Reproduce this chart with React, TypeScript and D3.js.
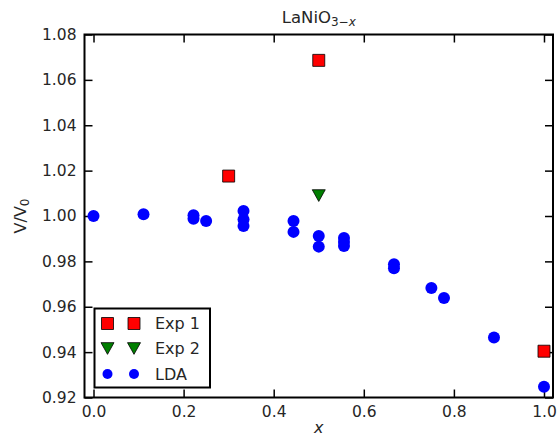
import React, { useEffect, useRef } from "react";
import * as d3 from "d3";

// LDA volumes
const ldaX = [0.0, 0.111, 0.222, 0.222, 0.25, 0.333, 0.333, 0.333, 0.444, 0.444, 0.5, 0.5, 0.556, 0.556, 0.556, 0.667, 0.667, 0.75, 0.778, 0.889, 1.0];
const ldaV = [1.0, 1.0008, 1.0003, 0.9988, 0.9978, 1.0022, 0.9985, 0.9956, 0.9978, 0.993, 0.9912, 0.9865, 0.9903, 0.9885, 0.9868, 0.9787, 0.977, 0.9683, 0.9639, 0.9464, 0.9247];

// experiments
const exp1X = [0.3, 0.5, 1.0];
const exp1V = [1.0176, 1.0686, 0.9404];
const exp2X = [0.5];
const exp2V = [1.009];

const xTicks = [0.0, 0.2, 0.4, 0.6, 0.8, 1.0];
const yTicks = [0.92, 0.94, 0.96, 0.98, 1.0, 1.02, 1.04, 1.06, 1.08];
const legendLabels = ["Exp 1", "Exp 2", "LDA"];

const W = 559;
const H = 438;
const margin = { top: 34.5, right: 6, bottom: 40.5, left: 84.5 };
const FONT = "DejaVu Sans, sans-serif";
const TXT = "#262626";

export default function App() {
  const ref = useRef<SVGSVGElement>(null);

  useEffect(() => {
    const svg = d3.select(ref.current);
    svg.selectAll("*").remove();
    const width = W - margin.left - margin.right;
    const height = H - margin.top - margin.bottom;

    const x = d3.scaleLinear().domain([-0.02, 1.02]).range([0, width]);
    const y = d3.scaleLinear().domain([0.92, 1.08]).range([height, 0]);

    const g = svg.append("g").attr("transform", `translate(${margin.left},${margin.top})`);

    const styleAxis = (sel: any, labels: boolean) => {
      sel.select(".domain").remove();
      sel.selectAll(".tick line").attr("stroke", "#000").attr("stroke-width", 1.5);
      sel.selectAll(".tick text")
        .attr("fill", TXT)
        .style("font-family", FONT)
        .style("font-size", "15.5px")
        .style("display", labels ? null : "none");
    };

    const fmt2 = d3.format(".2f");
    const fmt1 = d3.format(".1f");

    g.append("g").attr("transform", `translate(0,${height})`)
      .call(d3.axisBottom(x).tickValues(xTicks).tickSize(-8).tickPadding(8).tickFormat((d: any) => fmt1(d)))
      .call((s) => styleAxis(s, true));
    g.append("g")
      .call(d3.axisTop(x).tickValues(xTicks).tickSize(-8).tickFormat(() => ""))
      .call((s) => styleAxis(s, false));
    g.append("g")
      .call(d3.axisLeft(y).tickValues(yTicks).tickSize(-8).tickPadding(8).tickFormat((d: any) => fmt2(d)))
      .call((s) => styleAxis(s, true));
    g.append("g").attr("transform", `translate(${width},0)`)
      .call(d3.axisRight(y).tickValues(yTicks).tickSize(-8).tickFormat(() => ""))
      .call((s) => styleAxis(s, false));

    // frame
    g.append("rect")
      .attr("width", width).attr("height", height)
      .attr("fill", "none").attr("stroke", "#000").attr("stroke-width", 2);

    const square = d3.symbol().type(d3.symbolSquare).size(144);
    const tri = (s: number) => `M${-s},${-s * 0.9}L${s},${-s * 0.9}L0,${s * 0.9}Z`;

    // LDA
    g.append("g").selectAll("circle").data(ldaX).enter().append("circle")
      .attr("cx", (d) => x(d)).attr("cy", (d, i) => y(ldaV[i]))
      .attr("r", 6).attr("fill", "#0000ff");

    g.append("g").selectAll("path").data(exp1X).enter().append("path")
      .attr("d", square() as string)
      .attr("transform", (d, i) => `translate(${x(d)},${y(exp1V[i])})`)
      .attr("fill", "#ff0000").attr("stroke", "#000").attr("stroke-width", 0.8);

    g.append("g").selectAll("path").data(exp2X).enter().append("path")
      .attr("d", tri(6.5))
      .attr("transform", (d, i) => `translate(${x(d)},${y(exp2V[i])})`)
      .attr("fill", "#007f00").attr("stroke", "#000").attr("stroke-width", 0.8);

    // legend
    const leg = svg.append("g").attr("transform", "translate(94.5,308.5)");
    leg.append("rect").attr("width", 115.5).attr("height", 79)
      .attr("fill", "#fff").attr("stroke", "#000").attr("stroke-width", 2);
    const rowY = [15, 40, 65.5];
    legendLabels.forEach((lab, i) => {
      [13, 39.5].forEach((mx) => {
        const t = `translate(${mx},${rowY[i]})`;
        if (i === 0) {
          leg.append("path").attr("d", square() as string).attr("transform", t)
            .attr("fill", "#ff0000").attr("stroke", "#000").attr("stroke-width", 0.8);
        } else if (i === 1) {
          leg.append("path").attr("d", tri(6.5)).attr("transform", t)
            .attr("fill", "#007f00").attr("stroke", "#000").attr("stroke-width", 0.8);
        } else {
          leg.append("circle").attr("transform", t).attr("r", 5).attr("fill", "#0000ff");
        }
      });
      leg.append("text").attr("x", 60.5).attr("y", rowY[i] + 5.5)
        .attr("fill", TXT).style("font-family", FONT).style("font-size", "16px")
        .text(lab);
    });

    // title
    const title = svg.append("text").attr("x", margin.left + width / 2).attr("y", 22.5)
      .attr("text-anchor", "middle").attr("fill", TXT)
      .style("font-family", FONT).style("font-size", "16.5px");
    title.append("tspan").text("LaNiO");
    title.append("tspan").attr("dy", 3).style("font-size", "12px").text("3−");
    title.append("tspan").style("font-size", "12px").style("font-style", "italic").text("x");

    // x label
    svg.append("text").attr("x", margin.left + width / 2).attr("y", 433)
      .attr("text-anchor", "middle").attr("fill", TXT)
      .style("font-family", FONT).style("font-size", "16px").style("font-style", "italic")
      .text("x");

    // y label
    const yl = svg.append("text")
      .attr("transform", `translate(26,${margin.top + height / 2}) rotate(-90)`)
      .attr("text-anchor", "middle").attr("fill", TXT)
      .style("font-family", FONT).style("font-size", "16px");
    yl.append("tspan").text("V/V");
    yl.append("tspan").attr("dy", 3).style("font-size", "12px").text("0");
  }, []);

  return (
    <svg ref={ref} width={W} height={H}
      style={{ position: "absolute", left: 0, top: 0, background: "#fff" }} />
  );
}
